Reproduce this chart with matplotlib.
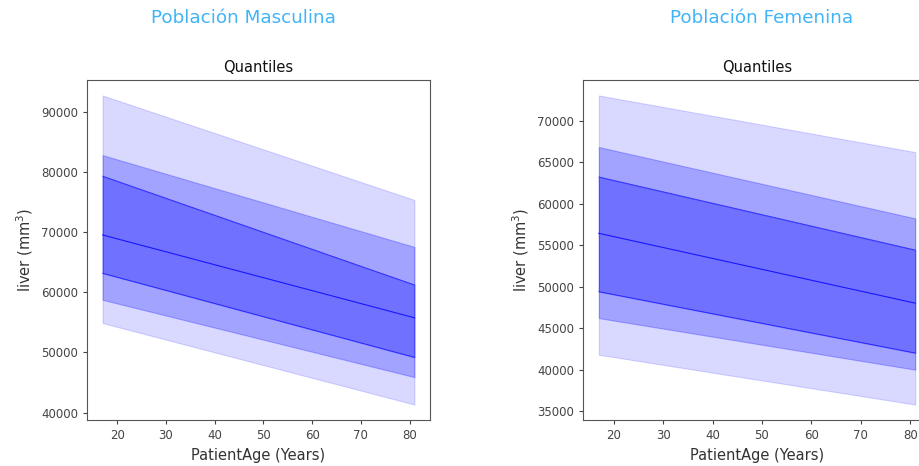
import matplotlib
matplotlib.use("Agg")
import matplotlib.pyplot as plt

# Data (values read at the two ends of the age range)
ages = [17, 81]

male_q05 = [54900, 41330]
male_q10 = [58770, 45900]
male_q25 = [63200, 49200]
male_q50 = [69570, 55780]
male_q75 = [79370, 61260]
male_q90 = [82860, 67580]
male_q95 = [92800, 75400]

female_q05 = [41800, 35800]
female_q10 = [46210, 40000]
female_q25 = [49400, 42010]
female_q50 = [56420, 48010]
female_q75 = [63210, 54410]
female_q90 = [66810, 58220]
female_q95 = [73020, 66200]

male_ticks = [40000, 50000, 60000, 70000, 80000, 90000]
female_ticks = [35000, 40000, 45000, 50000, 55000, 60000, 65000, 70000]
x_ticks = [20, 30, 40, 50, 60, 70, 80]

fig = plt.figure(figsize=(9.19, 4.66), dpi=100)

def draw(ax, q05, q10, q25, q50, q75, q90, q95, yticks):
    ax.fill_between(ages, q05, q95, color="blue", alpha=0.15, linewidth=0.8)
    ax.fill_between(ages, q10, q90, color="blue", alpha=0.25, linewidth=0.8)
    ax.fill_between(ages, q25, q75, color="blue", alpha=0.3, linewidth=0.8)
    ax.plot(ages, q50, color="blue", lw=0.8, alpha=0.8)
    ax.plot(ages, q25, color="blue", lw=0.6, alpha=0.6)
    ax.plot(ages, q75, color="blue", lw=0.6, alpha=0.6)
    ax.set_title("Quantiles", fontsize=10.5, color="#111111")
    ax.set_xlabel("PatientAge (Years)", fontsize=10.5, color="#333333")
    ax.set_ylabel("liver (mm$^3$)", fontsize=10.5, color="#333333")
    ax.set_xticks(x_ticks)
    ax.set_yticks(yticks)
    ax.tick_params(labelsize=8.5, colors="#444444", length=3)
    for s in ax.spines.values():
        s.set_color("#555555")

ax1 = fig.add_axes([0.0947, 0.0987, 0.3732, 0.7296])
draw(ax1, male_q05, male_q10, male_q25, male_q50, male_q75, male_q90, male_q95, male_ticks)

ax2 = fig.add_axes([0.6344, 0.0987, 0.3787, 0.7296])
draw(ax2, female_q05, female_q10, female_q25, female_q50, female_q75, female_q90, female_q95, female_ticks)

fig.text(0.2644, 0.961, "Población Masculina", ha="center", va="center",
         fontsize=13.2, color="#41B4F8")
fig.text(0.829, 0.961, "Población Femenina", ha="center", va="center",
         fontsize=13.2, color="#41B4F8")

fig.savefig("out.png", dpi=100)
